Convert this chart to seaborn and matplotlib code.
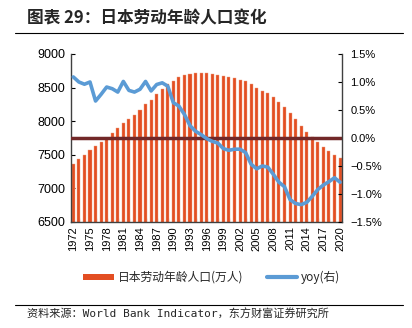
import numpy as np
import pandas as pd
import matplotlib
matplotlib.use('Agg')
import matplotlib.pyplot as plt
import seaborn as sns
from matplotlib.patches import Patch
from matplotlib.lines import Line2D

# ---- data ----
years = list(range(1972, 2021))
pop = [7363, 7438, 7497, 7576, 7626, 7686, 7755, 7824, 7894, 7968, 8033, 8092,
       8162, 8251, 8316, 8400, 8479,
       8554, 8603, 8653, 8688, 8702, 8712, 8717, 8712, 8702, 8692, 8677, 8658,
       8638, 8618, 8598, 8554, 8499,
       8454, 8415, 8355, 8290, 8211, 8122, 8028, 7929, 7839, 7760, 7686, 7616,
       7557, 7502, 7448]
yoy = [1.09, 1.00, 0.96, 1.00, 0.66, 0.78, 0.91, 0.88, 0.82, 1.01, 0.85, 0.82,
       0.87, 1.01, 0.84, 0.955, 0.985,
       0.925, 0.63, 0.57, 0.42, 0.22, 0.12, 0.06, -0.01, -0.06, -0.09, -0.19,
       -0.22, -0.20, -0.20, -0.26, -0.47, -0.55,
       -0.50, -0.52, -0.65, -0.79, -0.87, -1.10, -1.17, -1.19, -1.15, -1.04,
       -0.92, -0.84, -0.78, -0.71, -0.79]
left_ticks = [6500, 7000, 7500, 8000, 8500, 9000]
right_ticks = [-1.5, -1.0, -0.5, 0.0, 0.5, 1.0, 1.5]
title = '图表 29：日本劳动年龄人口变化'
bar_label = '日本劳动年龄人口(万人)'
line_label = 'yoy(右)'
source = '资料来源：World Bank Indicator，东方财富证券研究所'

BAR = '#E34E22'
BLUE = '#5B9BD5'
ZERO = '#722828'
SPINE = '#404040'

sns.set_theme(style='white')
plt.rcParams['font.family'] = ['Liberation Sans', 'Noto Sans CJK SC', 'DejaVu Sans']

fig = plt.figure(figsize=(4.12, 3.28), dpi=100)
ax = fig.add_axes([0.1723, 0.3232, 0.6578, 0.5122])

df = pd.DataFrame({'year': [str(y) for y in years], 'pop': pop, 'yoy': yoy})
sns.barplot(data=df, x='year', y='pop', color=BAR, saturation=1, width=0.55, ax=ax,
            edgecolor='#F0A080', linewidth=0.3)
ax.set_ylim(6500, 9000)
ax.set_yticks(left_ticks)
ax.set_yticklabels([str(v) for v in left_ticks], fontsize=9)
ax.set_xlim(-0.42, 48.35)
ax.set_xticks(range(len(years)))
ax.set_xticklabels([str(y) if (y - years[0]) % 3 == 0 else '' for y in years],
                   rotation=90, fontsize=8)
ax.set_xlabel('')
ax.set_ylabel('')
ax.tick_params(axis='x', bottom=True, direction='in', length=3, width=0.8,
               color='black', pad=3, labelcolor='black')
ax.tick_params(axis='y', left=True, direction='in', length=3, width=0.8,
               color='black', pad=4, labelcolor='black')

ax2 = ax.twinx()
ax2.axhline(0, color=ZERO, lw=2.5, zorder=1)
sns.lineplot(x=np.arange(len(years)), y=yoy, ax=ax2, color=BLUE, lw=2.6, zorder=3)
ax2.set_ylim(-1.5, 1.5)
ax2.set_yticks(right_ticks)
ax2.set_yticklabels([f'{v:.1f}%'.replace('-', '\u2212') for v in right_ticks], fontsize=8)
ax2.tick_params(axis='y', right=True, direction='in', length=3, width=0.8,
                color='black', pad=6, labelcolor='black')
ax2.set_ylabel('')

for a in (ax, ax2):
    a.spines['top'].set_visible(False)
    for s in ('left', 'right', 'bottom'):
        a.spines[s].set_color(SPINE)
        a.spines[s].set_linewidth(1.0)
ax.spines['right'].set_visible(False)
ax2.spines['left'].set_visible(False)
ax2.spines['bottom'].set_visible(False)

handles = [Patch(facecolor=BAR, edgecolor='none', label=bar_label),
           Line2D([], [], color=BLUE, lw=3, label=line_label)]
fig.legend(handles=handles, loc='center', bbox_to_anchor=(0.514, 0.155), ncol=2,
           frameon=False, handlelength=2.6, handleheight=0.4,
           columnspacing=2.0, handletextpad=0.3,
           prop={'family': ['Noto Sans CJK SC', 'DejaVu Sans'], 'size': 8.5})

fig.text(27 / 412, 0.945, title, fontsize=12, fontweight='bold', va='center', ha='left',
         family=['Noto Sans CJK SC', 'DejaVu Sans'])
fig.add_artist(Line2D([15 / 412, 403 / 412], [0.900, 0.900], transform=fig.transFigure,
                      color='black', lw=0.8))
fig.add_artist(Line2D([15 / 412, 403 / 412], [0.070, 0.070], transform=fig.transFigure,
                      color='black', lw=0.8))
fig.text(27 / 412, 0.042, source, fontsize=8, va='center', ha='left',
         family=['DejaVu Sans Mono', 'Noto Sans CJK SC'])

fig.savefig('out.png', dpi=100)
